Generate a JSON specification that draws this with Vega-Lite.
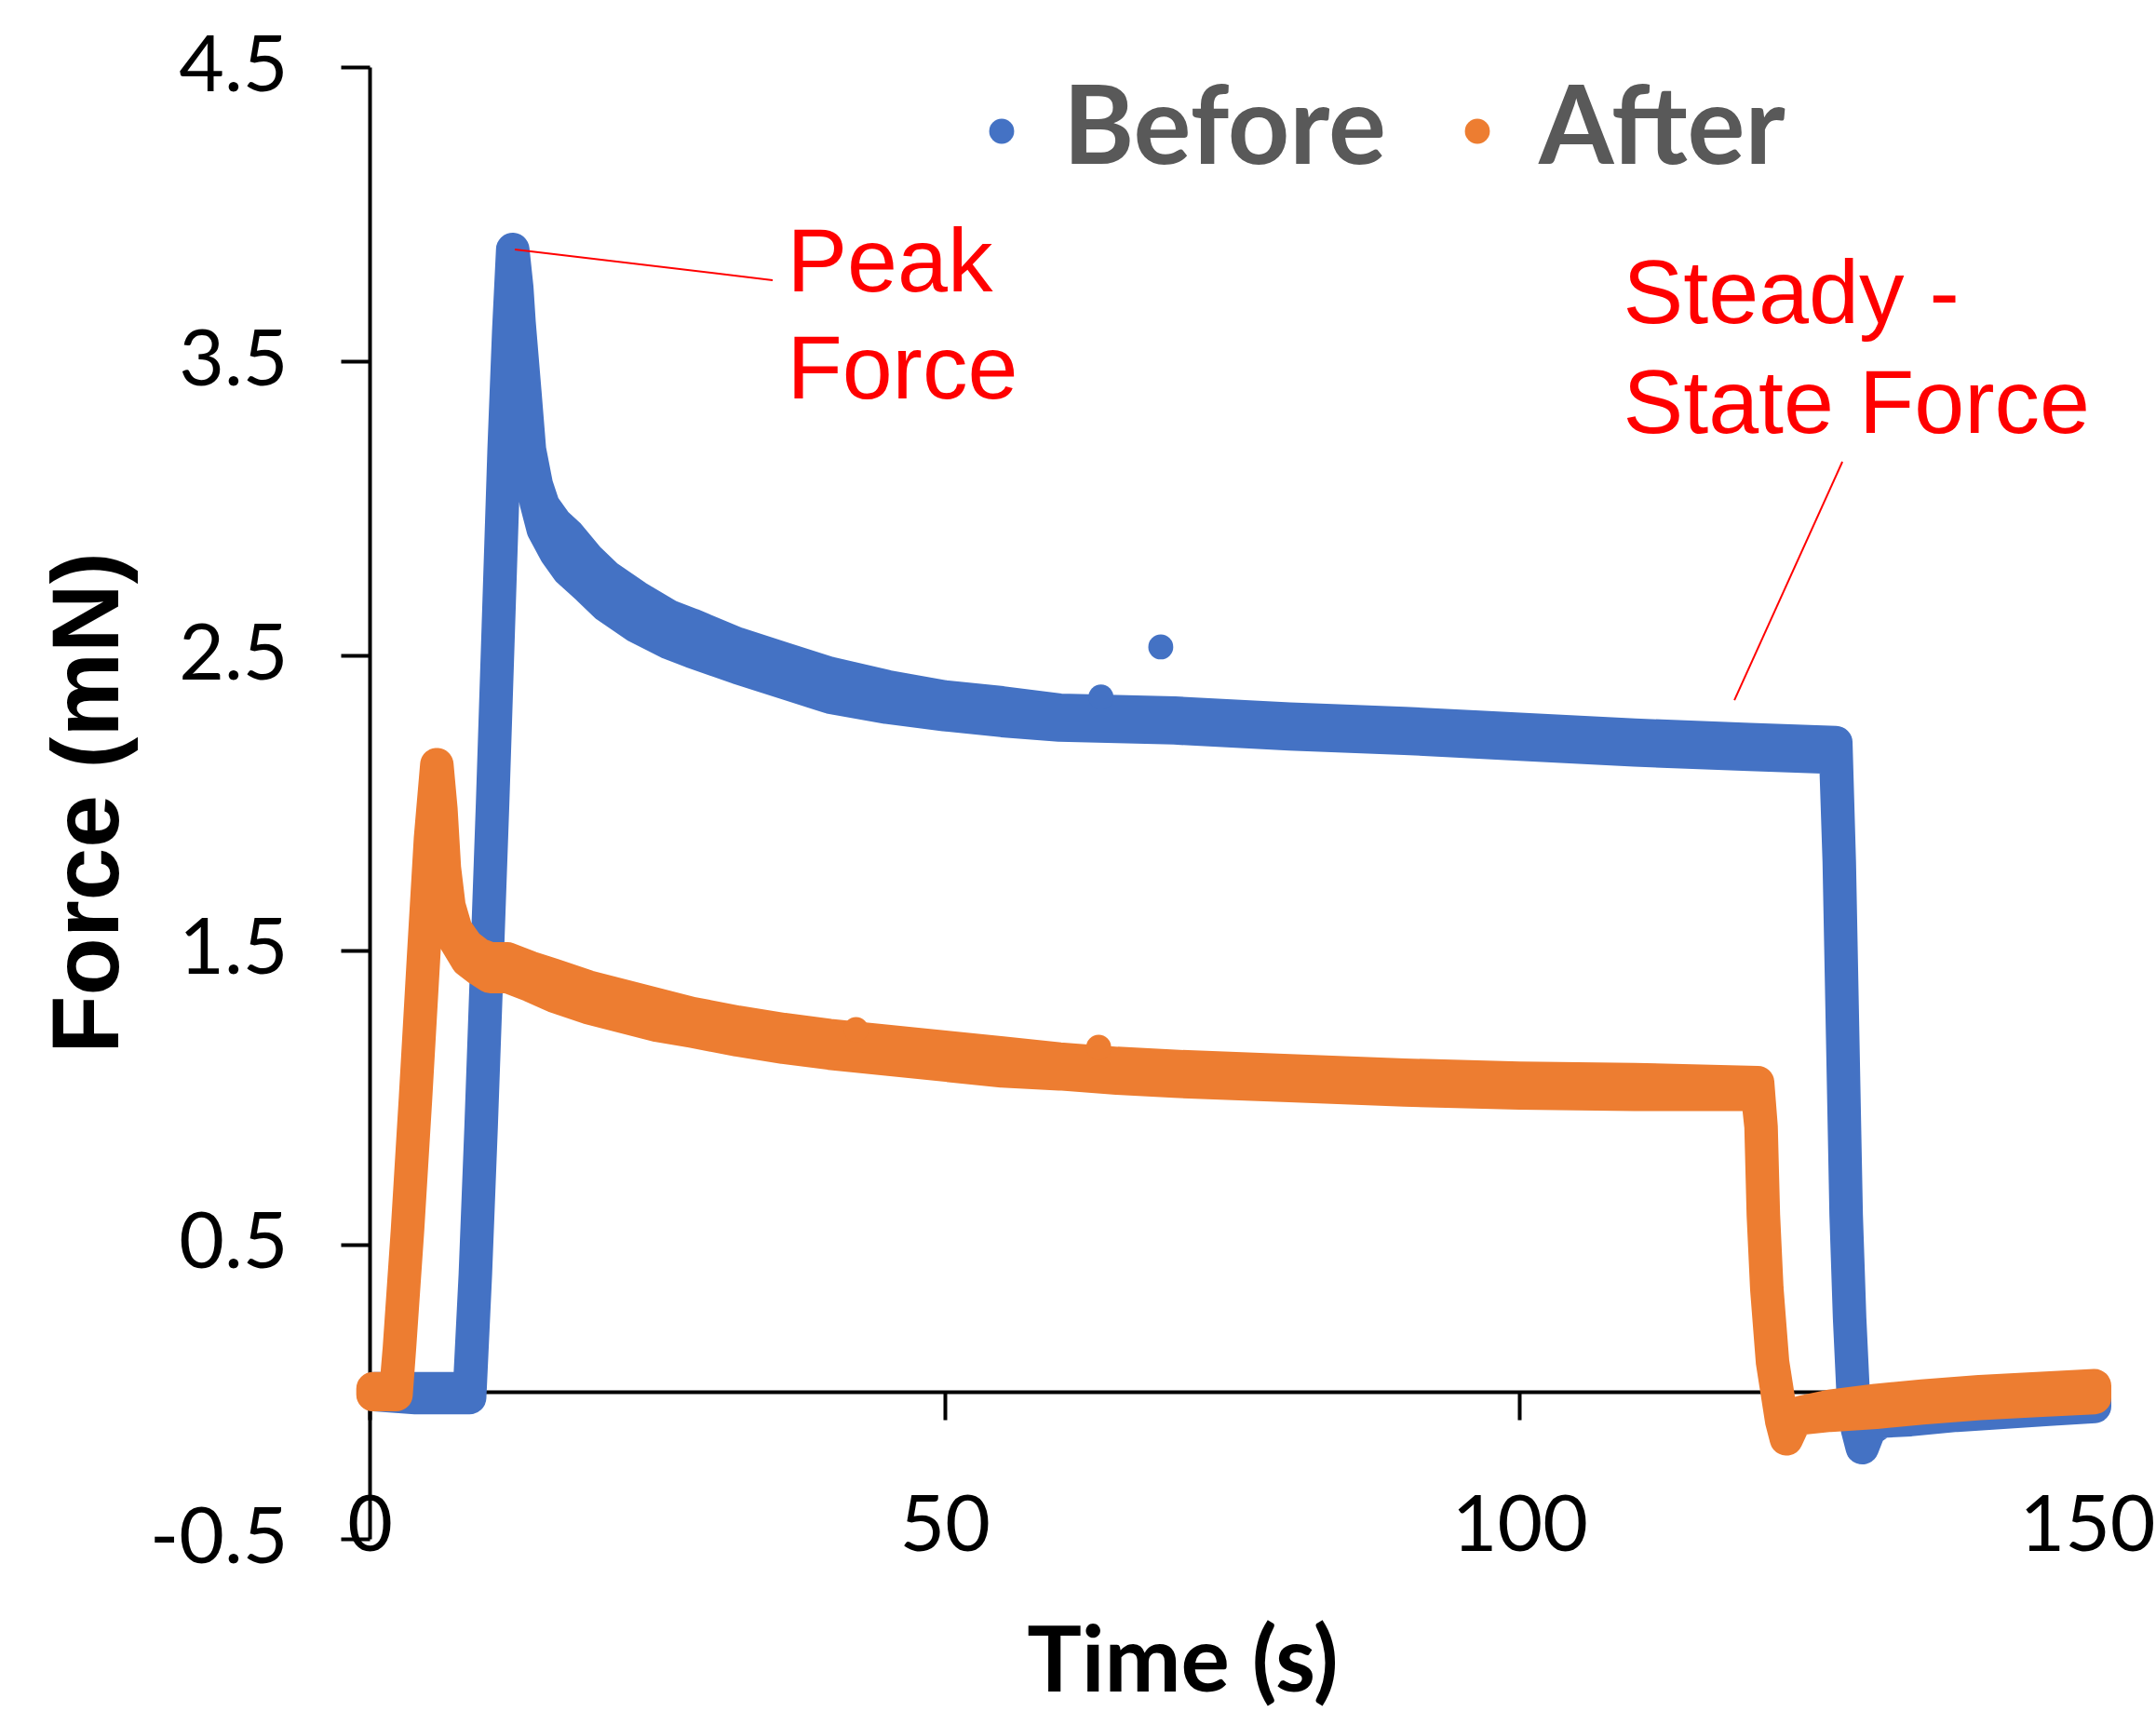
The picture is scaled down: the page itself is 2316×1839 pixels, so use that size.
{
  "$schema": "https://vega.github.io/schema/vega-lite/v6.json",
  "width": 1853,
  "height": 1581,
  "autosize": {"type": "none"},
  "padding": {"left": 397, "top": 72, "right": 66, "bottom": 186},
  "background": "white",
  "config": {"view": {"stroke": null}, "axis": {"grid": false}},
  "datasets": {
    "bands": [
      {"series": "Before", "x": 0.4, "y": -0.01, "hi": 0.01},
      {"series": "Before", "x": 4.0, "y": -0.02, "hi": 0.01},
      {"series": "Before", "x": 8.7, "y": -0.02, "hi": 0.01},
      {"series": "Before", "x": 9.2, "y": 0.4, "hi": 0.4},
      {"series": "Before", "x": 9.7, "y": 0.9, "hi": 0.9},
      {"series": "Before", "x": 10.2, "y": 1.45, "hi": 1.45},
      {"series": "Before", "x": 10.7, "y": 2.0, "hi": 2.0},
      {"series": "Before", "x": 11.2, "y": 2.6, "hi": 2.6},
      {"series": "Before", "x": 11.7, "y": 3.2, "hi": 3.2},
      {"series": "Before", "x": 12.1, "y": 3.6, "hi": 3.6},
      {"series": "Before", "x": 12.45, "y": 3.88, "hi": 3.88},
      {"series": "Before", "x": 12.8, "y": 3.75, "hi": 3.75},
      {"series": "Before", "x": 13.0, "y": 3.61, "hi": 3.63},
      {"series": "Before", "x": 13.5, "y": 3.365, "hi": 3.395},
      {"series": "Before", "x": 13.9, "y": 3.16, "hi": 3.2},
      {"series": "Before", "x": 14.5, "y": 3.02, "hi": 3.08},
      {"series": "Before", "x": 15.1, "y": 2.93, "hi": 3.01},
      {"series": "Before", "x": 16.2, "y": 2.85, "hi": 2.95},
      {"series": "Before", "x": 17.3, "y": 2.79, "hi": 2.91},
      {"series": "Before", "x": 19.0, "y": 2.73, "hi": 2.83},
      {"series": "Before", "x": 20.6, "y": 2.67, "hi": 2.77},
      {"series": "Before", "x": 23.2, "y": 2.6, "hi": 2.7},
      {"series": "Before", "x": 26.0, "y": 2.545, "hi": 2.635},
      {"series": "Before", "x": 28.0, "y": 2.515, "hi": 2.605},
      {"series": "Before", "x": 32.0, "y": 2.46, "hi": 2.54},
      {"series": "Before", "x": 36.0, "y": 2.41, "hi": 2.49},
      {"series": "Before", "x": 40.0, "y": 2.36, "hi": 2.44},
      {"series": "Before", "x": 45.0, "y": 2.325, "hi": 2.395},
      {"series": "Before", "x": 50.0, "y": 2.3, "hi": 2.36},
      {"series": "Before", "x": 55.0, "y": 2.28, "hi": 2.34},
      {"series": "Before", "x": 60.0, "y": 2.265, "hi": 2.315},
      {"series": "Before", "x": 65.0, "y": 2.26, "hi": 2.31},
      {"series": "Before", "x": 70.0, "y": 2.255, "hi": 2.305},
      {"series": "Before", "x": 80.0, "y": 2.235, "hi": 2.285},
      {"series": "Before", "x": 90.0, "y": 2.22, "hi": 2.27},
      {"series": "Before", "x": 100.0, "y": 2.2, "hi": 2.25},
      {"series": "Before", "x": 110.0, "y": 2.18, "hi": 2.23},
      {"series": "Before", "x": 120.0, "y": 2.165, "hi": 2.215},
      {"series": "Before", "x": 127.5, "y": 2.155, "hi": 2.205},
      {"series": "Before", "x": 127.8, "y": 1.8, "hi": 1.8},
      {"series": "Before", "x": 128.1, "y": 1.2, "hi": 1.2},
      {"series": "Before", "x": 128.4, "y": 0.6, "hi": 0.6},
      {"series": "Before", "x": 128.7, "y": 0.25, "hi": 0.25},
      {"series": "Before", "x": 129.0, "y": 0.0, "hi": 0.0},
      {"series": "Before", "x": 129.4, "y": -0.13, "hi": -0.13},
      {"series": "Before", "x": 129.8, "y": -0.19, "hi": -0.19},
      {"series": "Before", "x": 130.4, "y": -0.13, "hi": -0.13},
      {"series": "Before", "x": 131.5, "y": -0.1, "hi": -0.08},
      {"series": "Before", "x": 134.0, "y": -0.095, "hi": -0.065},
      {"series": "Before", "x": 138.0, "y": -0.08, "hi": -0.05},
      {"series": "Before", "x": 142.0, "y": -0.07, "hi": -0.04},
      {"series": "Before", "x": 146.0, "y": -0.06, "hi": -0.03},
      {"series": "Before", "x": 150.0, "y": -0.05, "hi": -0.02},
      {"series": "After", "x": 0.3, "y": -0.01, "hi": 0.01},
      {"series": "After", "x": 2.3, "y": -0.01, "hi": 0.01},
      {"series": "After", "x": 2.6, "y": 0.15, "hi": 0.15},
      {"series": "After", "x": 3.3, "y": 0.55, "hi": 0.55},
      {"series": "After", "x": 4.0, "y": 1.0, "hi": 1.0},
      {"series": "After", "x": 4.7, "y": 1.48, "hi": 1.48},
      {"series": "After", "x": 5.3, "y": 1.88, "hi": 1.88},
      {"series": "After", "x": 5.85, "y": 2.13, "hi": 2.13},
      {"series": "After", "x": 6.2, "y": 1.98, "hi": 1.98},
      {"series": "After", "x": 6.5, "y": 1.78, "hi": 1.78},
      {"series": "After", "x": 6.9, "y": 1.63, "hi": 1.65},
      {"series": "After", "x": 7.5, "y": 1.53, "hi": 1.57},
      {"series": "After", "x": 8.5, "y": 1.465, "hi": 1.515},
      {"series": "After", "x": 9.5, "y": 1.435, "hi": 1.485},
      {"series": "After", "x": 10.5, "y": 1.41, "hi": 1.47},
      {"series": "After", "x": 12.0, "y": 1.41, "hi": 1.47},
      {"series": "After", "x": 14.0, "y": 1.38, "hi": 1.44},
      {"series": "After", "x": 16.0, "y": 1.345, "hi": 1.415},
      {"series": "After", "x": 19.0, "y": 1.305, "hi": 1.375},
      {"series": "After", "x": 22.0, "y": 1.275, "hi": 1.345},
      {"series": "After", "x": 25.0, "y": 1.245, "hi": 1.315},
      {"series": "After", "x": 28.0, "y": 1.225, "hi": 1.285},
      {"series": "After", "x": 32.0, "y": 1.195, "hi": 1.255},
      {"series": "After", "x": 36.0, "y": 1.17, "hi": 1.23},
      {"series": "After", "x": 40.0, "y": 1.15, "hi": 1.21},
      {"series": "After", "x": 45.0, "y": 1.13, "hi": 1.19},
      {"series": "After", "x": 50.0, "y": 1.11, "hi": 1.17},
      {"series": "After", "x": 55.0, "y": 1.09, "hi": 1.15},
      {"series": "After", "x": 60.0, "y": 1.08, "hi": 1.13},
      {"series": "After", "x": 65.0, "y": 1.065, "hi": 1.115},
      {"series": "After", "x": 70.0, "y": 1.055, "hi": 1.105},
      {"series": "After", "x": 80.0, "y": 1.04, "hi": 1.09},
      {"series": "After", "x": 90.0, "y": 1.025, "hi": 1.075},
      {"series": "After", "x": 100.0, "y": 1.015, "hi": 1.065},
      {"series": "After", "x": 110.0, "y": 1.01, "hi": 1.06},
      {"series": "After", "x": 120.7, "y": 1.01, "hi": 1.05},
      {"series": "After", "x": 121.0, "y": 0.9, "hi": 0.9},
      {"series": "After", "x": 121.2, "y": 0.6, "hi": 0.6},
      {"series": "After", "x": 121.5, "y": 0.35, "hi": 0.35},
      {"series": "After", "x": 122.0, "y": 0.1, "hi": 0.1},
      {"series": "After", "x": 122.4, "y": 0.0, "hi": 0.0},
      {"series": "After", "x": 122.8, "y": -0.1, "hi": -0.1},
      {"series": "After", "x": 123.2, "y": -0.16, "hi": -0.16},
      {"series": "After", "x": 123.8, "y": -0.11, "hi": -0.11},
      {"series": "After", "x": 124.5, "y": -0.09, "hi": -0.07},
      {"series": "After", "x": 127.0, "y": -0.08, "hi": -0.05},
      {"series": "After", "x": 131.0, "y": -0.07, "hi": -0.03},
      {"series": "After", "x": 135.0, "y": -0.055, "hi": -0.015},
      {"series": "After", "x": 140.0, "y": -0.04, "hi": 0.0},
      {"series": "After", "x": 145.0, "y": -0.03, "hi": 0.01},
      {"series": "After", "x": 150.0, "y": -0.02, "hi": 0.02}
    ],
    "dots": [
      {"series": "Before", "x": 68.8, "y": 2.53},
      {"series": "Before", "x": 63.6, "y": 2.36},
      {"series": "After", "x": 42.3, "y": 1.23},
      {"series": "After", "x": 63.4, "y": 1.17}
    ],
    "leaders": [
      {"x": 12.63, "y": 3.88, "x2": 35.05, "y2": 3.776},
      {"x": 128.07, "y": 3.159, "x2": 118.68, "y2": 2.349}
    ],
    "notes": [
      {"x": 36.3, "y": 3.738, "text": "Peak"},
      {"x": 36.3, "y": 3.374, "text": "Force"},
      {"x": 109.0, "y": 3.63, "text": "Steady -"},
      {"x": 109.0, "y": 3.257, "text": "State Force"}
    ]
  },
  "encoding": {
    "x": {
      "field": "x", "type": "quantitative",
      "scale": {"domain": [0, 150], "nice": false, "zero": false},
      "axis": {
        "orient": "bottom", "offset": -158, "values": [0, 50, 100, 150], "format": "d",
        "domain": true, "domainColor": "black", "domainWidth": 4,
        "ticks": true, "tickColor": "black", "tickWidth": 4, "tickSize": 30,
        "labelFont": "Lato", "labelFontSize": 84, "labelColor": "black",
        "labelPadding": 115, "labelBaseline": "middle", "labelAlign": "center",
        "labelOffset": {"condition": {"test": "datum.value === 150", "value": -8}, "value": 0},
        "labelFlush": false, "labelOverlap": false, "labelBound": false,
        "title": "Time (s)", "titleFont": "Lato", "titleFontSize": 98,
        "titleFontWeight": "bold", "titleColor": "black", "titleX": 873, "titleY": 321,
        "titleBaseline": "alphabetic", "titleAlign": "center"
      }
    },
    "y": {
      "field": "y", "type": "quantitative",
      "scale": {"domain": [-0.5, 4.5], "nice": false, "zero": false},
      "axis": {
        "orient": "left", "values": [-0.5, 0.5, 1.5, 2.5, 3.5, 4.5],
        "labelExpr": "replace(format(datum.value, '.1f'), '\u2212', '-')",
        "domain": true, "domainColor": "black", "domainWidth": 4,
        "ticks": true, "tickColor": "black", "tickWidth": 4, "tickSize": 31,
        "labelFont": "Lato", "labelFontSize": 84, "labelColor": "black",
        "labelPadding": 57, "labelFlush": false, "labelOverlap": false,
        "title": "Force (mN)", "titleFont": "Liberation Sans", "titleFontSize": 102,
        "titleFontWeight": "bold", "titleColor": "black", "titleAngle": -90,
        "titleX": -271, "titleY": 790, "titleBaseline": "alphabetic", "titleAlign": "center"
      }
    }
  },
  "layer": [
    {
      "data": {"name": "bands"},
      "transform": [{"filter": "datum.series === 'Before'"}],
      "mark": {"type": "area", "color": "#4472C4", "stroke": "#4472C4", "strokeWidth": 36, "strokeJoin": "round", "strokeCap": "round", "opacity": 1},
      "encoding": {"y2": {"field": "hi"}}
    },
    {
      "data": {"name": "bands"},
      "transform": [{"filter": "datum.series === 'After'"}],
      "mark": {"type": "area", "color": "#ED7D31", "stroke": "#ED7D31", "strokeWidth": 36, "strokeJoin": "round", "strokeCap": "round", "opacity": 1},
      "encoding": {"y2": {"field": "hi"}}
    },
    {
      "data": {"name": "dots"},
      "mark": {"type": "point", "filled": true, "size": 720, "opacity": 1, "shape": "circle"},
      "encoding": {
        "color": {
          "field": "series", "type": "nominal",
          "scale": {"domain": ["Before", "After"], "range": ["#4472C4", "#ED7D31"]},
          "legend": {
            "orient": "none", "legendX": 621, "legendY": 11, "direction": "horizontal",
            "title": null, "symbolType": "circle", "symbolSize": 720, "symbolStrokeWidth": 0,
            "labelFont": "Lato", "labelFontSize": 116, "labelFontWeight": "bold",
            "labelColor": "#595959", "labelOffset": 8, "columnPadding": 40, "labelLimit": 0,
            "padding": 0, "symbolOpacity": 1
          }
        }
      }
    },
    {
      "data": {"name": "leaders"},
      "mark": {"type": "rule", "color": "#FF0000", "strokeWidth": 2},
      "encoding": {
        "x2": {"field": "x2"},
        "y2": {"field": "y2"}
      }
    },
    {
      "data": {"name": "notes"},
      "mark": {"type": "text", "align": "left", "baseline": "alphabetic", "font": "Liberation Sans", "fontSize": 97, "color": "#FF0000"},
      "encoding": {
        "text": {"field": "text"}
      }
    }
  ]
}
